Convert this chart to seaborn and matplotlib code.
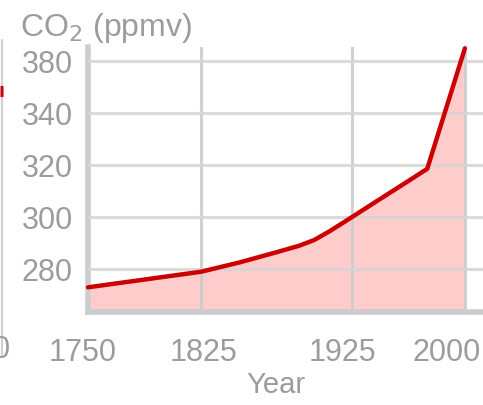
import numpy as np
import pandas as pd
import matplotlib
matplotlib.use('Agg')
import matplotlib.pyplot as plt
import matplotlib.transforms as mtransforms
from matplotlib.lines import Line2D
import seaborn as sns

# CO2 record
years = [1750, 1775, 1800, 1825, 1850, 1875, 1890, 1900, 1910, 1925, 1940, 1950, 1960, 1975, 2000]
co2 = [273, 275, 277, 279, 282.5, 286.5, 289, 291.2, 294.5, 300, 305.6, 309.3, 313, 318.6, 390]

x_ticks = [1750, 1825, 1925, 2000]
y_ticks = [280, 300, 320, 340, 380]

# the y axis is spaced evenly between its labels (last step is 40 ppmv)
y_breaks = [200, 280, 300, 320, 340, 380, 460]
y_pos = [-4, 0, 1, 2, 3, 4, 6]


def fwd(v):
    return np.interp(v, y_breaks, y_pos)


def inv(p):
    return np.interp(p, y_pos, y_breaks)


sns.set_style("white")
plt.rcParams['font.family'] = ['Liberation Sans', 'DejaVu Sans']

df = pd.DataFrame({'Year': years, 'CO2': co2})
txt = '#9c9c9c'

fig = plt.figure(figsize=(4.83, 4.05), dpi=100)
ax = fig.add_axes([88 / 483, 1 - 312 / 405, 1 - 88 / 483, (312 - 47) / 405])
ax.set_yscale('function', functions=(fwd, inv))

ax.fill_between(df['Year'], df['CO2'], 250, color='#ffcccc', lw=0, zorder=1)
sns.lineplot(data=df, x='Year', y='CO2', ax=ax, color='#cc0000', lw=3.2,
             zorder=4, clip_on=False)

ax.set_xlim(1750, 2012)
ax.set_ylim(263.5, 391)
ax.set_xticks(x_ticks)
ax.set_yticks(y_ticks)
ax.set_yticklabels([str(v) for v in y_ticks])
ax.minorticks_off()

ax.grid(axis='y', color='#d8d4d4', lw=2.2, alpha=0.85, zorder=2)
ax.grid(axis='x', color='#cccccc', lw=2.2, alpha=0.9, zorder=2)
ax.set_axisbelow(False)
for s in ['top', 'right']:
    ax.spines[s].set_visible(False)
for s in ['left', 'bottom']:
    ax.spines[s].set_color('#cccccc')
    ax.spines[s].set_linewidth(4)

ax.tick_params(axis='x', length=10, width=2.2, color='#d8d8d8', pad=9,
               labelsize=22, labelcolor=txt)
ax.tick_params(axis='y', length=3, width=2, color='#d8d8d8', pad=8,
               labelsize=22, labelcolor=txt)

# nudge the year labels as in the original (last one kept inside the frame)
shifts = [-5, 2, -9, -18]
for lab, dx in zip(ax.get_xticklabels(), shifts):
    lab.set_transform(lab.get_transform() +
                      mtransforms.ScaledTranslation(dx / 100, 0, fig.dpi_scale_trans))

ax.set_xlabel('')
ax.set_ylabel('')
fig.text(276 / 483, 1 - 385 / 405, 'Year', fontsize=21, color=txt,
         ha='center', va='center')
fig.text(20 / 483, 1 - 28 / 405, 'CO$_2$ (ppmv)', fontsize=23, color=txt,
         ha='left', va='center')

# remnant of the neighbouring panel on the left edge
fig.add_artist(Line2D([1.5 / 483, 1.5 / 483], [1 - 355 / 405, 1 - 40 / 405],
                      color='#cfcfcf', lw=1.5))
fig.add_artist(Line2D([0, 3 / 483], [1 - 91 / 405, 1 - 91 / 405],
                      color='#cc0000', lw=8, solid_capstyle='butt'))
fig.text(-7 / 483, 1 - 350 / 405, '0', fontsize=22, color=txt,
         ha='left', va='center')

plt.savefig('out.png', dpi=100)
